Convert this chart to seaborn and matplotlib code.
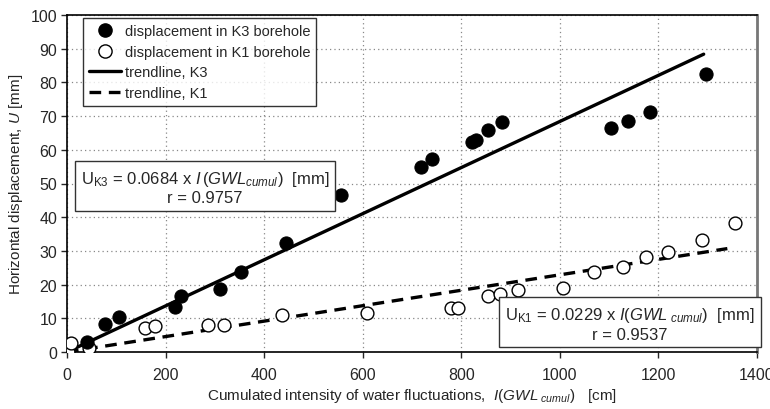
import numpy as np
import pandas as pd
import seaborn as sns
import matplotlib
matplotlib.use("Agg")
from matplotlib import pyplot as plt
from matplotlib.lines import Line2D

# measured displacement, K3 borehole (filled dots)
k3_x = [41, 77, 106, 220, 231, 311, 353, 444, 557, 718, 740, 821, 829, 854, 883, 1103, 1138, 1183, 1296]
k3_y = [3.0, 8.2, 10.3, 13.4, 16.7, 18.7, 23.7, 32.2, 46.5, 54.8, 57.4, 62.2, 62.9, 66.0, 68.2, 66.4, 68.6, 71.3, 82.6]

# measured displacement, K1 borehole (open dots)
k1_x = [2, 8, 45, 158, 179, 287, 319, 436, 609, 779, 793, 854, 878, 915, 1007, 1069, 1128, 1175, 1219, 1288, 1355]
k1_y = [0.0, 2.7, 1.2, 7.2, 7.6, 8.0, 8.0, 10.9, 11.7, 13.0, 13.0, 16.7, 17.1, 18.4, 18.9, 23.7, 25.2, 28.2, 29.6, 33.3, 38.2]

# trendlines U = a * I(GWL)
k3_slope = 0.0684
k1_slope = 0.0229
k3_range = [5, 1292]
k1_range = [0, 1340]

xticks = [0, 200, 400, 600, 800, 1000, 1200, 1400]
yticks = [0, 10, 20, 30, 40, 50, 60, 70, 80, 90, 100]

sns.set_style("white")
plt.rcParams['font.family'] = ['Liberation Sans', 'DejaVu Sans']
plt.rcParams['mathtext.fontset'] = 'custom'
plt.rcParams['mathtext.rm'] = 'Liberation Sans'
plt.rcParams['mathtext.it'] = 'Liberation Sans:italic'

fig, ax = plt.subplots(figsize=(7.7, 4.1), dpi=100)
fig.subplots_adjust(left=0.087, right=0.983, top=0.961, bottom=0.139)

df3 = pd.DataFrame({'x': k3_x, 'y': k3_y})
df1 = pd.DataFrame({'x': k1_x, 'y': k1_y})
tr3 = pd.DataFrame({'x': k3_range, 'y': [k3_slope * v for v in k3_range]})
tr1 = pd.DataFrame({'x': k1_range, 'y': [k1_slope * v for v in k1_range]})

sns.lineplot(data=tr3, x='x', y='y', ax=ax, color='black', lw=2.4, zorder=3)
sns.lineplot(data=tr1, x='x', y='y', ax=ax, color='black', lw=2.4,
             dashes=False, zorder=3).lines[-1].set_dashes([3.5, 2.3])
sns.scatterplot(data=df1, x='x', y='y', ax=ax, s=85, facecolor='white',
                edgecolor='black', linewidth=1.0, zorder=4)
sns.scatterplot(data=df3, x='x', y='y', ax=ax, s=90, color='black',
                edgecolor='black', zorder=5)

ax.set_xlim(0, 1400)
ax.set_ylim(0, 100)
ax.set_xticks(xticks)
ax.set_yticks(yticks)
ax.tick_params(axis='both', labelsize=11.5, length=4, width=1, direction='out',
               bottom=True, left=True, pad=3)
ax.tick_params(axis='x', pad=7)
ax.grid(True, color='#888888', linestyle=(0, (1, 2.5)), lw=0.9)
for s in ['left', 'bottom', 'top']:
    ax.spines[s].set_color('black')
    ax.spines[s].set_linewidth(1.2)
ax.spines['right'].set_color('#777777')
ax.spines['right'].set_linewidth(2)

ax.set_xlabel(r'Cumulated intensity of water fluctuations,  $I(GWL_{\ cumul})$   [cm]',
              fontsize=11, labelpad=3)
ax.set_ylabel(r'Horizontal displacement, $U$ [mm]', fontsize=11, labelpad=4)

handles = [
    Line2D([], [], marker='o', color='black', ls='none', markersize=9.5),
    Line2D([], [], marker='o', markerfacecolor='white', markeredgecolor='black',
           ls='none', markersize=9.5, markeredgewidth=1.0),
    Line2D([], [], color='black', lw=2.4),
    Line2D([], [], color='black', lw=2.4, dashes=[3.5, 2.3]),
]
labels = ['displacement in K3 borehole', 'displacement in K1 borehole',
          'trendline, K3', 'trendline, K1']
leg = ax.legend(handles, labels, loc='upper left', bbox_to_anchor=(0.023, 0.99),
                borderaxespad=0, fontsize=10.5, frameon=True, fancybox=False,
                edgecolor='black', handlelength=2.2, handletextpad=0.3,
                labelspacing=0.45, borderpad=0.4)
leg.get_frame().set_linewidth(1.0)

box = dict(boxstyle='square,pad=0.35', facecolor='white', edgecolor='#333333', lw=1.0)
ax.text(0.2, 0.49,
        'U$_{\\rm K3}$ = 0.0684 x $I\\,(GWL_{cumul})$  [mm]\nr = 0.9757',
        transform=ax.transAxes, ha='center', va='center', fontsize=12,
        linespacing=1.2, bbox=box, zorder=6)
ax.text(0.816, 0.085,
        'U$_{\\rm K1}$ = 0.0229 x $I(GWL_{\\ cumul})$  [mm]\nr = 0.9537',
        transform=ax.transAxes, ha='center', va='center', fontsize=12,
        linespacing=1.2, bbox=box, zorder=6)

fig.savefig('out.png', dpi=100)
